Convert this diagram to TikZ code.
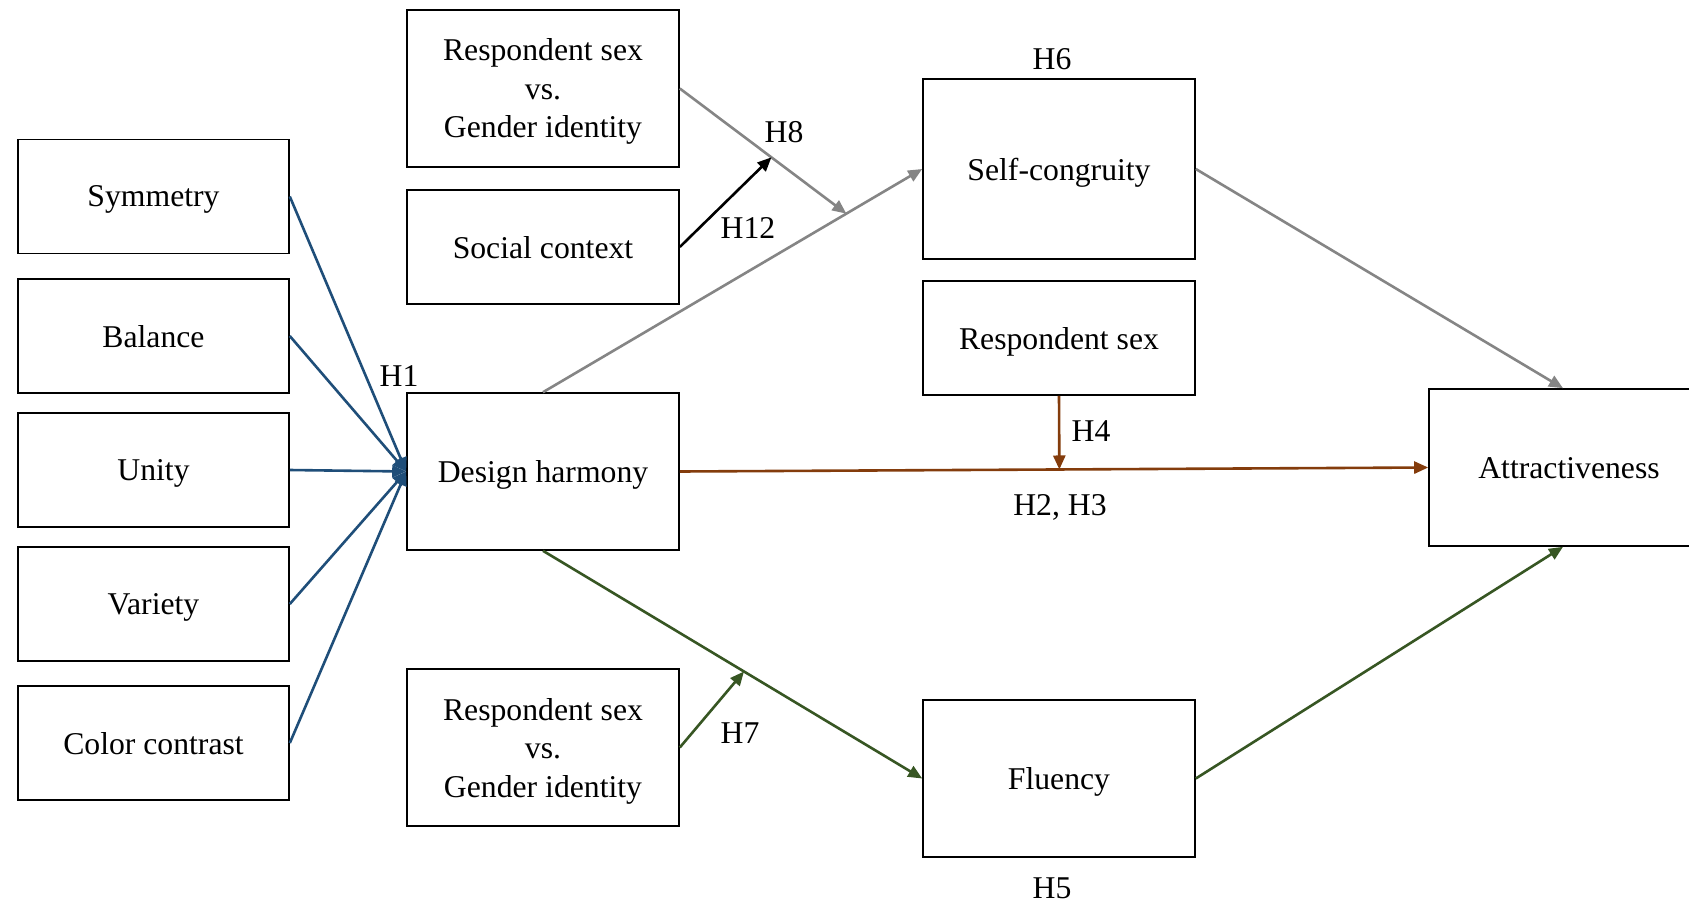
\documentclass[tikz,border=0pt]{standalone}
\usepackage{fontspec}
\setmainfont{Liberation Serif}
\usetikzlibrary{arrows.meta,calc}
\definecolor{cblue}{HTML}{1F4E79}
\definecolor{cgray}{HTML}{858585}
\definecolor{cbrown}{HTML}{843C0C}
\definecolor{cgreen}{HTML}{375623}
\begin{document}
\begin{tikzpicture}[x=1pt,y=-1pt,
  box/.style={draw=black,line width=1.6pt,rectangle,minimum width=272pt,align=center,
    font=\fontsize{31.7}{38.5}\selectfont,inner sep=0pt,text depth=0pt},
  sbox/.style={box,minimum width=271pt,minimum height=114pt},
  lab/.style={font=\fontsize{31.7}{38}\selectfont,inner sep=0pt},
  conn/.style={line width=2.6pt,-{Triangle[length=14pt,width=12pt]}},
  bl/.style={conn,draw=cblue},
  gr/.style={conn,draw=cgray},
  br/.style={conn,draw=cbrown},
  gn/.style={conn,draw=cgreen},
  bk/.style={conn,draw=black}]
\clip (0,0) rectangle (1689,902);
\fill[white] (0,0) rectangle (1689,902);
% left boxes
\node[sbox] (sym) at (153.5,196.5) {Symmetry};
\node[sbox] (bal) at (153.5,336) {Balance};
\node[sbox] (uni) at (153.5,470) {Unity};
\node[sbox] (var) at (153.5,604) {Variety};
\node[sbox] (col) at (153.5,743) {Color contrast};
% middle column
\node[box,minimum height=157pt] (rsg1) at (543,88.5) {Respondent sex\\vs.\\Gender identity};
\node[box,minimum height=114pt] (soc) at (543,247) {Social context};
\node[box,minimum height=157pt] (dh) at (543,471.5) {Design harmony};
\node[box,minimum height=157pt] (rsg2) at (543,747.5) {Respondent sex\\vs.\\Gender identity};
% right-middle column
\node[box,minimum height=180pt] (sc) at (1059,169) {Self-congruity};
\node[box,minimum height=114pt] (rs) at (1059,338) {Respondent sex};
\node[box,minimum height=157pt] (flu) at (1059,778.5) {Fluency};
% right
\node[box,minimum width=280pt,minimum height=157pt] (att) at (1569,467.5) {Attractiveness};
% blue H1 arrows
\draw[bl] (sym.east) -- (dh.west);
\draw[bl] (bal.east) -- (dh.west);
\draw[bl] (uni.east) -- (dh.west);
\draw[bl] (var.east) -- (dh.west);
\draw[bl] (col.east) -- (dh.west);
% gray paths
\draw[gr] (dh.north) -- (sc.west);
\coordinate (m8) at ($(dh.north)!0.8!(sc.west)$);
\draw[gr] (rsg1.east) -- (m8);
\coordinate (m12) at ($(rsg1.east)!0.55!(m8)$);
\draw[bk] (soc.east) -- (m12);
\draw[gr] (sc.east) -- ($(att.north)+(-6,0)$);
% brown
\draw[br] (dh.east) -- (att.west);
\coordinate (m4) at ($(dh.east)!(rs.south)!(att.west)$);
\draw[br] (rs.south) -- (m4);
% green
\draw[gn] (dh.south) -- (flu.west);
\coordinate (m7) at ($(dh.south)!0.53!(flu.west)$);
\draw[gn] (rsg2.east) -- (m7);
\draw[gn] (flu.east) -- ($(att.south)+(-6,0)$);
% labels
\node[lab] (h6) at (1052,59) {H6};
\node[lab] (h8) at (784,132) {H8};
\node[lab] (h12) at (748,228) {H12};
\node[lab] (h1) at (399,376) {H1};
\node[lab] (h4) at (1091,431) {H4};
\node[lab] (h23) at (1060,507) {H2, H3};
\node[lab] (h7) at (740,733) {H7};
\node[lab] (h5) at (1052,888) {H5};
\end{tikzpicture}
\end{document}
